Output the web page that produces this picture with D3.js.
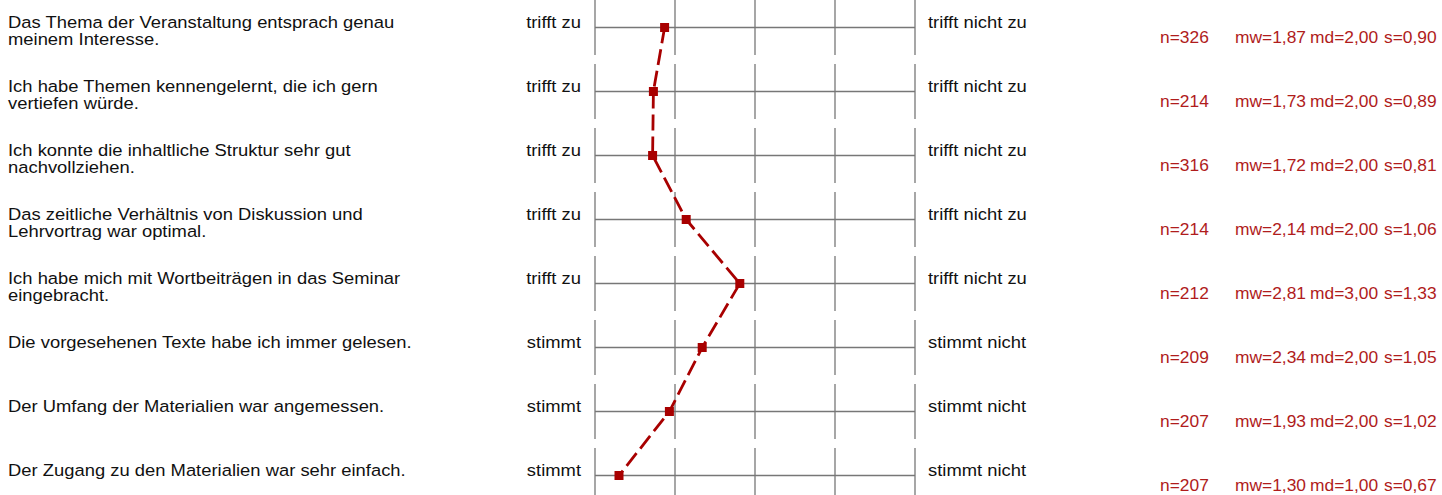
<!DOCTYPE html>
<html><head><meta charset="utf-8">
<script src="https://cdn.jsdelivr.net/npm/d3@7"></script>
<style>body{margin:0;background:#fff}svg{display:block}text{font-family:"Liberation Sans",Arial,sans-serif}</style>
</head><body><svg id="c" width="1442" height="495"></svg>
<script>
const questions = [
  ["Das Thema der Veranstaltung entsprach genau","meinem Interesse."],
  ["Ich habe Themen kennengelernt, die ich gern","vertiefen würde."],
  ["Ich konnte die inhaltliche Struktur sehr gut","nachvollziehen."],
  ["Das zeitliche Verhältnis von Diskussion und","Lehrvortrag war optimal."],
  ["Ich habe mich mit Wortbeiträgen in das Seminar","eingebracht."],
  ["Die vorgesehenen Texte habe ich immer gelesen."],
  ["Der Umfang der Materialien war angemessen."],
  ["Der Zugang zu den Materialien war sehr einfach."]
];
const leftLabels = ["trifft zu","trifft zu","trifft zu","trifft zu","trifft zu","stimmt","stimmt","stimmt"];
const rightLabels = ["trifft nicht zu","trifft nicht zu","trifft nicht zu","trifft nicht zu","trifft nicht zu","stimmt nicht","stimmt nicht","stimmt nicht"];
const nValues = [326,214,316,214,212,209,207,207];
const mwValues = [1.87,1.73,1.72,2.14,2.81,2.34,1.93,1.30];
const mdValues = [2.00,2.00,2.00,2.00,3.00,2.00,2.00,1.00];
const sValues = [0.90,0.89,0.81,1.06,1.33,1.05,1.02,0.67];
const scaleTicks = [1,2,3,4,5];

const svg = d3.select("#c");
const fs = 16.5, sx = 18.4/16.5;
const fsStats = 16.2, sxStats = 17.4/16.2;
const x = d3.scaleLinear().domain([1,5]).range([595,915]);
const y = d3.scaleBand().domain(d3.range(questions.length)).range([-4.5, 507.5]);
const cy = i => y(i) + y.bandwidth()/2;
const grid = "#777";
const red = "#a80000";
const statRed = "#b01c1c";
const fmt = v => v.toFixed(2).replace(".", ",");

function label(g, x0, y0, lines, opt){
  const t = g.append("text")
    .attr("transform", `translate(${x0},${y0}) scale(${opt.sx},1)`)
    .attr("font-size", opt.fs).attr("fill", opt.fill)
    .attr("text-anchor", opt.anchor || "start");
  [].concat(lines).forEach((l,k)=>t.append("tspan").attr("x",0).attr("y",k*17).text(l));
  return t;
}

const rows = svg.selectAll("g.row").data(questions).join("g").attr("class","row");
rows.each(function(q,i){
  const g = d3.select(this);
  const c = cy(i);
  g.append("line").attr("x1",x(1)).attr("x2",x(5)).attr("y1",c).attr("y2",c).attr("stroke",grid).attr("stroke-width",1.3);
  scaleTicks.forEach(t=>{
    g.append("line").attr("x1",x(t)).attr("x2",x(t)).attr("y1",c-27.5).attr("y2",c+27.5).attr("stroke",grid).attr("stroke-width",1.3);
  });
  const txt = {fs, sx, fill:"#111"};
  label(g, 8, c+0.5, q, txt);
  label(g, 581, c+0.5, leftLabels[i], {...txt, anchor:"end"});
  label(g, 928, c+0.5, rightLabels[i], txt);
  const sy = c + 15;
  const st = {fs:fsStats, sx:sxStats, fill:statRed};
  label(g, 1160, sy, "n="+nValues[i], st);
  label(g, 1235, sy, "mw="+fmt(mwValues[i]), st);
  label(g, 1310, sy, "md="+fmt(mdValues[i]), st);
  label(g, 1384, sy, "s="+fmt(sValues[i]), st);
});

const line = d3.line().x(d=>x(d)).y((d,i)=>cy(i));
svg.append("path").datum(mwValues).attr("d",line).attr("fill","none").attr("stroke",red).attr("stroke-width",2.8).attr("stroke-dasharray","16,6");
svg.selectAll("rect.m").data(mwValues).join("rect").attr("class","m")
  .attr("x",d=>x(d)-4.5).attr("y",(d,i)=>cy(i)-4.5).attr("width",9).attr("height",9).attr("fill",red);
</script></body></html>
